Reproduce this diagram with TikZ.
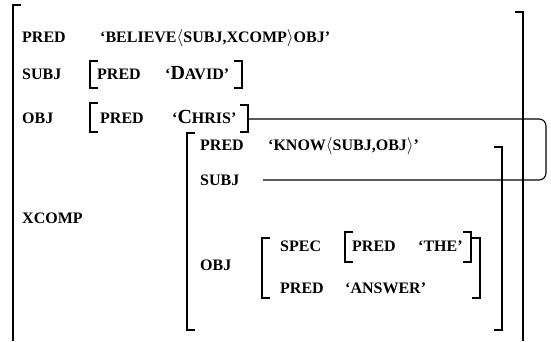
\documentclass[tikz,border=0pt]{standalone}
\usepackage{fontspec}
\setmainfont{Liberation Serif}
\newcommand{\initcap}[1]{{\fontsize{20}{22}\selectfont #1}}
\begin{document}
\begin{tikzpicture}[x=1pt, y=-1pt,
    every node/.style={font=\fontsize{16}{18}\selectfont\bfseries, inner sep=0pt, anchor=base west},
    brk/.style={line width=1.8pt},
    link/.style={line width=1.1pt, rounded corners=7pt}
]
\useasboundingbox (0,0) rectangle (551,341);

% outer f-structure
\node (predA) at (22,42) {PRED};
\node (believe) at (100,42) {`BELIEVE$\langle$SUBJ,XCOMP$\rangle$OBJ'};
\node (subjA) at (22,79) {SUBJ};
\node (predB) at (97,79) {PRED};
\node (david) at (165,79) {`\initcap{D}AVID'};
\node (objA) at (22,123) {OBJ};
\node (predC) at (100,123) {PRED};
\node (chris) at (172,123) {`\initcap{C}HRIS'};
\node (xcomp) at (22,223) {XCOMP};

% xcomp f-structure
\node (predD) at (200,150) {PRED};
\node (know) at (268,150) {`KNOW$\langle$SUBJ,OBJ$\rangle$'};
\node (subjB) at (200,185) {SUBJ};
\node (objB) at (200,270) {OBJ};
\node (spec) at (280,251) {SPEC};
\node (predE) at (352,251) {PRED};
\node (the) at (418,251) {`THE'};
\node (predF) at (280,293) {PRED};
\node (answer) at (345,293) {`ANSWER'};

% brackets: left ones, then right ones
\foreach \x/\top/\bot in {90/61/88, 90/103/132, 187/133/330, 262/238/298, 345/232/262}{
  \draw[brk] (\x+8,\top) -- (\x,\top) -- (\x,\bot) -- (\x+8,\bot);
}
\foreach \x/\top/\bot in {242/61/88, 248/105/132, 502/147/330, 480/238/298, 471/232/262}{
  \draw[brk] (\x-8,\top) -- (\x,\top) -- (\x,\bot) -- (\x-8,\bot);
}
\draw[brk] (21,5) -- (13,5) -- (13,341);
\draw[brk] (515,12) -- (523,12) -- (523,341);

% structure sharing
\coordinate (objR) at (248,119);
\coordinate (subjL) at (263,180);
\draw[link] (objR) -- ++(298,0) |- (subjL);

\end{tikzpicture}
\end{document}
